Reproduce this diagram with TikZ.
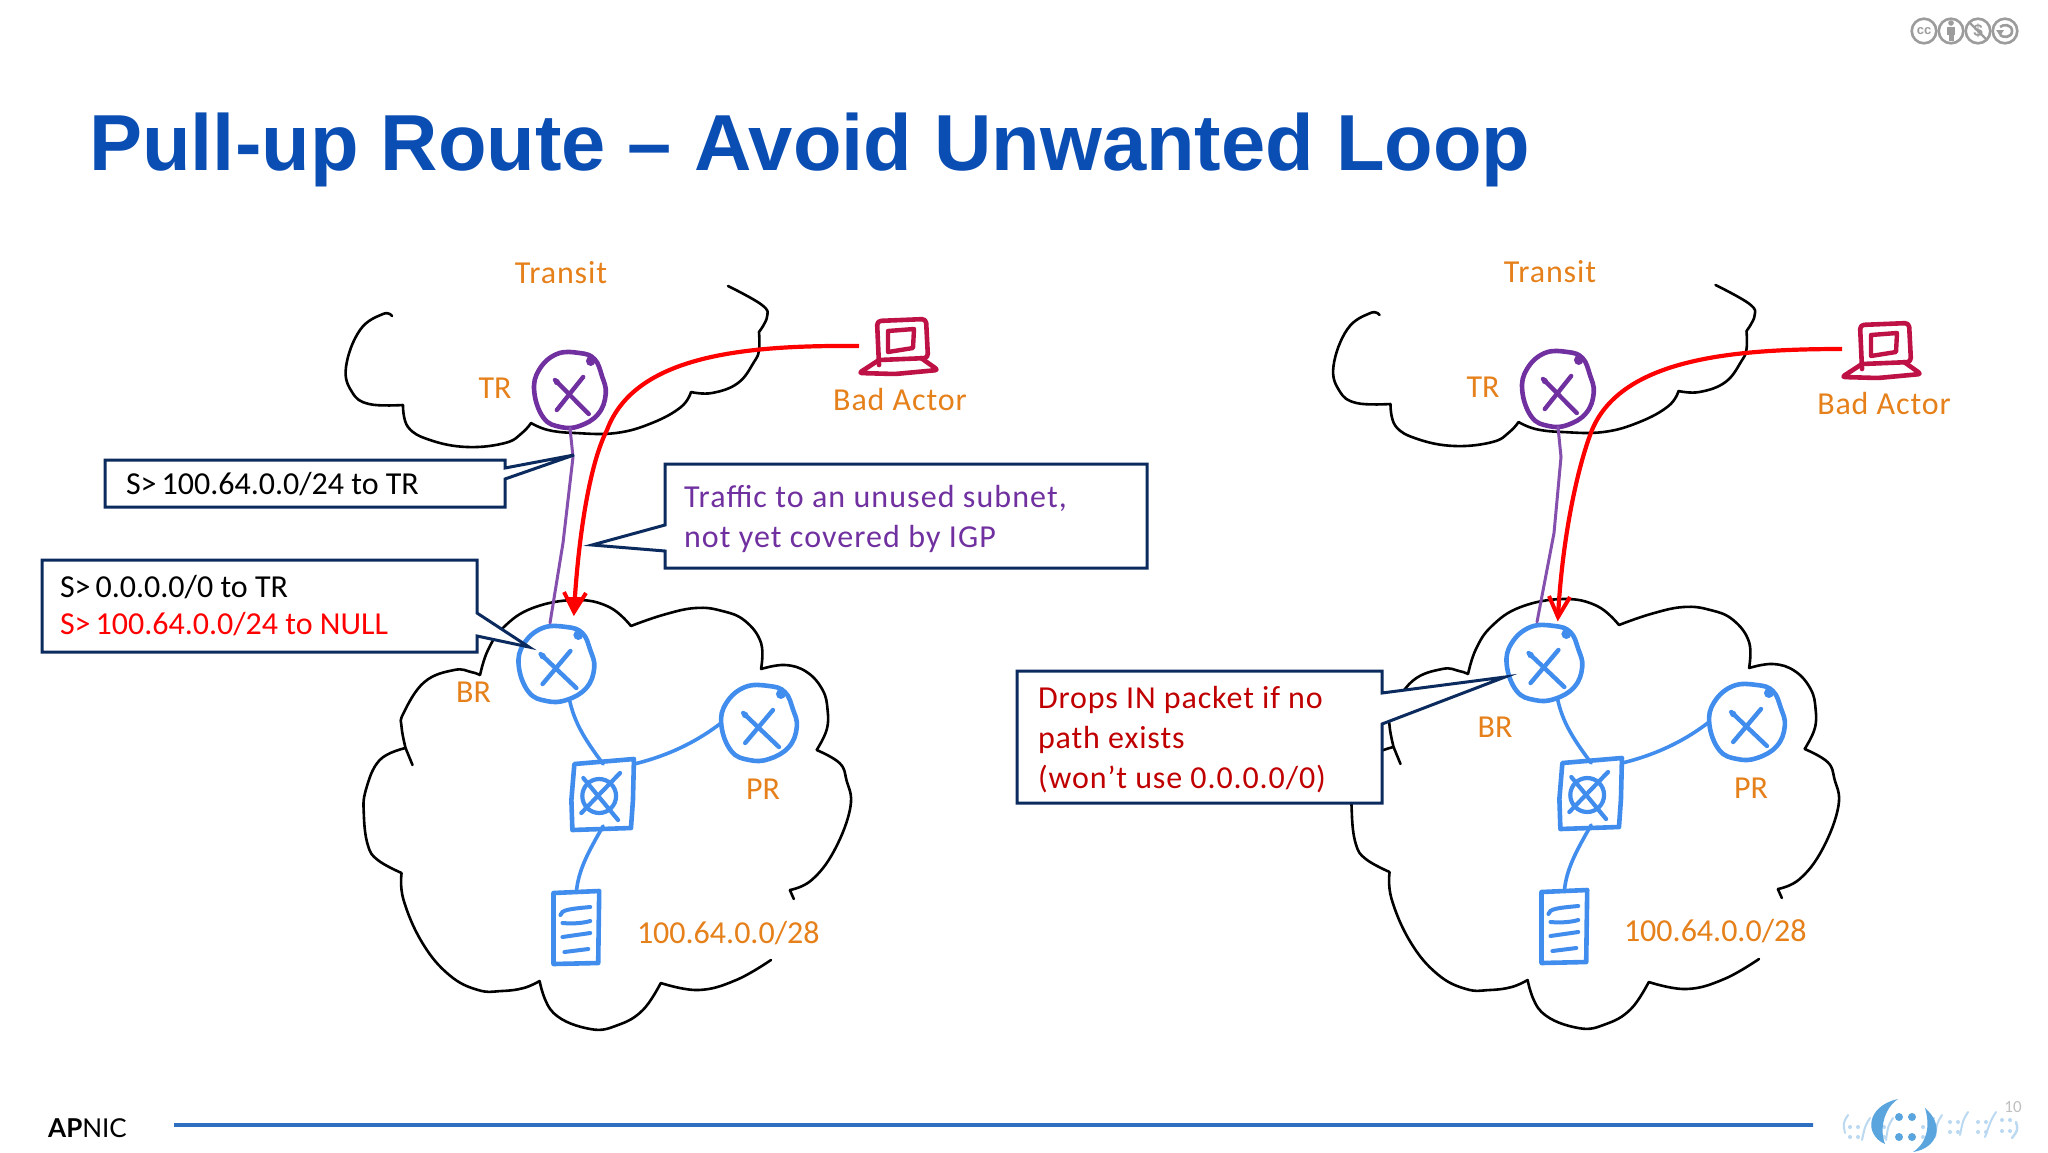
\documentclass[tikz,border=0pt]{standalone}
\usepackage{fontspec}
\setmainfont{Carlito}
\newfontfamily\spaced{Carlito}[LetterSpace=2.8]
\newfontfamily\spacedwide{Carlito}[LetterSpace=3.4]
\newfontfamily\titlefont{Liberation Sans}
\newfontfamily\logofont{Lato}
\usetikzlibrary{calc}
\definecolor{orangetxt}{HTML}{E5801A}
\definecolor{purp}{HTML}{7030A0}
\definecolor{netblue}{HTML}{418DEE}
\definecolor{navy}{HTML}{0B2A5E}
\definecolor{titleblue}{HTML}{0A4DB3}
\definecolor{crimson}{HTML}{BE1246}
\definecolor{darkred}{HTML}{C00000}
\definecolor{ccgray}{HTML}{9C9C9C}
\definecolor{logoblue}{HTML}{5AA5DE}
\definecolor{logolight}{HTML}{BBD9F1}
\definecolor{rulea}{HTML}{2F6FBF}
\definecolor{ruleb}{HTML}{1A4A9C}
\tikzset{
  lbl/.style={inner sep=0pt,outer sep=0pt,font=\fontsize{32}{38}\selectfont,anchor=base},
  slbl/.style={inner sep=0pt,outer sep=0pt,font=\spaced\fontsize{32}{38}\selectfont,anchor=base},
  wlbl/.style={inner sep=0pt,outer sep=0pt,font=\spacedwide\fontsize{32}{38}\selectfont,anchor=base west},
  olbl/.style={lbl,text=orangetxt},
  oslbl/.style={slbl,text=orangetxt},
  llbl/.style={lbl,anchor=base west},
  sllbl/.style={slbl,anchor=base west},
  ghost/.style={circle,inner sep=0pt,outer sep=0pt,minimum size=#1,draw=none},
  cloudline/.style={black,line width=2.6pt,line cap=round,line join=round},
  link/.style={netblue,line width=3.6pt,line cap=round},
  purplelink/.style={purp!85!white,line width=3pt,line cap=round,line join=round},
  hand/.style={line width=#1,line cap=round,line join=round},
  redline/.style={red,line width=4.2pt,line join=miter},
  callout/.style={draw=navy,fill=white,line width=3pt,line join=miter},
}
% hand-drawn router: name, x, y, colour
\newcommand{\handrouter}[4]{%
  \node[ghost=76pt] (#1) at (#2,#3) {};
  \begin{scope}[shift={(#2,#3)}]
    \draw[#4,hand=4.6pt] plot[smooth cycle,tension=.7] coordinates
      {(-38,2) (-33,-20) (-14,-36) (10,-37) (26,-31) (34,-14) (38,4) (30,24) (10,36) (-10,37) (-28,28)};
    \fill[#4] (22,-29) circle (5);
    \draw[#4,hand=4.4pt] (-16,-10) -- (20,24);
    \draw[#4,hand=4.4pt] (14,-13) -- (-14,20);
    \fill[#4] (-14,-8) circle (3.2);
  \end{scope}}
\newcommand{\topcloud}{%
  \draw[cloudline]
    plot[smooth,tension=.7] coordinates {(392,316) (383,314) (360,330) (346,367) (352,392) (369,404) (403,405)}
    plot[smooth,tension=.7] coordinates {(403,405) (408,427) (430,440) (467,447) (505,443) (522,433) (531,423)}
    plot[smooth,tension=.7] coordinates {(531,423) (548,430) (575,433) (616,433) (652,423) (681,407) (691,392)}
    plot[smooth,tension=.7] coordinates {(691,392) (712,393) (738,383) (754,362) (759,350) (759,332)}
    plot[smooth,tension=.7] coordinates {(759,332) (767,317) (762,305) (728,286)};}
\newcommand{\bottomcloud}{%
  \draw[cloudline]
    (413,765) -- (406,748)
    plot[smooth,tension=.7] coordinates {(406,748) (380,760) (366,790) (364,815) (368,845) (378,860) (402,873)}
    plot[smooth,tension=.7] coordinates {(402,873) (404,900) (423,943) (450,975) (479,990) (503,991) (525,988) (541,981)}
    plot[smooth,tension=.7] coordinates {(541,981) (555,1013) (592,1029) (620,1025) (645,1010) (663,983)}
    plot[smooth,tension=.7] coordinates {(663,983) (701,990) (739,980) (774,960)}
    (797,899) -- (793,890)
    plot[smooth,tension=.7] coordinates {(793,890) (815,880) (838,850) (854,807) (850,780) (843,763) (820,750)}
    plot[smooth,tension=.7] coordinates {(820,750) (830,730) (831,710) (826,690) (810,672) (788,665) (764,669)}
    plot[smooth,tension=.7] coordinates {(764,669) (764,643) (748,621) (725,611) (698,608) (665,615) (633,626)}
    plot[smooth,tension=.7] coordinates {(633,626) (611,607) (577,600) (534,608) (505,627) (489,650) (481,675)}
    plot[smooth,tension=.7] coordinates {(481,675) (472,672) (455,670) (425,682) (404,713) (402,727) (406,748)};}
% the inner network; #1 is the name prefix
\newcommand{\network}[1]{%
 \begin{scope}[shift={(2.4,0)},x=.993pt]
  \bottomcloud
  \handrouter{#1br}{558}{664}{netblue}
  \handrouter{#1pr}{762}{723}{netblue}
  \node[draw=none,minimum size=62pt,inner sep=0pt,outer sep=0pt] (#1sw) at (605,795) {};
  \node[draw=none,minimum width=46pt,minimum height=72pt,inner sep=0pt,outer sep=0pt] (#1doc) at (578,928) {};
  \draw[link] (#1br.-70) .. controls (576,723) and (587,740) .. (#1sw.north);
  \draw[link] (#1sw.north east) .. controls (665,757) and (695,745) .. (#1pr.west);
  \draw[link] (#1sw.south) .. controls (590,852) and (580,870) .. (#1doc.north);
  \draw[netblue,hand=4.6pt] (576,764) -- (636,759) -- (635,800) -- (633,828) -- (574,830) -- (573,800) -- cycle;
  \draw[netblue,hand=4.2pt] (601,796) ellipse (17 and 17);
  \draw[netblue,hand=4.2pt] (585,778) -- (620,820);
  \draw[netblue,hand=4.2pt] (622,773) -- (583,813);
  \draw[netblue,hand=4.6pt] (555,893) -- (601,891) -- (600,963) -- (555,964) -- cycle;
  \draw[netblue,hand=4pt] (562,915) .. controls (563,910) and (570,909) .. (592,907);
  \draw[netblue,hand=4pt] (564,923) .. controls (575,924) and (585,923) .. (592,921);
  \draw[netblue,hand=4pt] (564,937) -- (592,933);
  \draw[netblue,hand=4pt] (566,952) -- (590,949);
 \end{scope}
}
% laptop sketch
\newcommand{\laptop}{%
  \draw[crimson,hand=4.6pt,rounded corners=4pt] (879,365) -- (877,321) -- (926,319) -- (928,358) -- (879,360);
  \draw[crimson,hand=4.4pt] (888,331) -- (914,329) -- (913,348) -- (888,352) -- cycle;
  \draw[crimson,hand=4.6pt,rounded corners=3pt] (879,360) -- (859,373) -- (895,374) -- (938,370) -- (921,358);}
\begin{document}
\begin{tikzpicture}[x=1pt,y=-1pt]
\useasboundingbox (0,0) rectangle (2048,1152);
\fill[white] (0,0) rectangle (2048,1152);

% title
\node[inner sep=0pt,anchor=base west,text=titleblue,font=\titlefont\bfseries\fontsize{79.5}{96}\selectfont] (title) at (89,170) {Pull-up Route – Avoid Unwanted Loop};

% ---------- left network
\topcloud
\network{L}
\begin{scope}[shift={(570,390)},x=.94pt]
  \handrouter{Ltr}{0}{0}{purp}
\end{scope}
\node[oslbl] (Ltransit) at (561,283) {Transit};
\node[olbl] (Ltrl) at (495,398) {TR};
\node[oslbl] (Lactorl) at (900,410) {Bad Actor};
\node[olbl] (Lbrl) at (473.5,702) {BR};
\node[olbl] (Lprl) at (763,799) {PR};
\node[olbl,anchor=base west] (Lnet) at (637,943) {100.64.0.0/28};
\laptop
\coordinate (Lr0) at (859,346);
\coordinate (Lr1) at (607,430);
\coordinate (Lr2) at (574,612);
\coordinate (Lp1) at (550,623);
\draw[purplelink] (Ltr.south) -- (573,457) -- (563,543) -- (Lp1);
\draw[redline] (Lr0) .. controls (745,345) and (635,355) .. (Lr1) .. controls (589,465) and (578,540) .. (Lr2);
\draw[red,line width=4pt,line join=miter] (564,592) -- (Lr2) -- (586,593);
\fill[red] (568,597) -- (Lr2) -- (581,597) -- cycle;

% callouts left
\draw[callout] (105,460) -- (505,460) -- (505,468) -- (574,455) -- (505,479) -- (505,507) -- (105,507) -- cycle;
\node[llbl] (Lc1) at (126,494) {S>\hspace{5pt}100.64.0.0/24 to TR};
\draw[callout] (42,560) -- (477,560) -- (477,613) -- (529,647) -- (477,636) -- (477,652) -- (42,652) -- cycle;
\node[llbl] (Lc2a) at (60,597) {S>\hspace{5pt}0.0.0.0/0 to TR};
\node[llbl,text=red] (Lc2b) at (60,634) {S>\hspace{5pt}100.64.0.0/24 to NULL};
\draw[callout] (665,464) -- (1147,464) -- (1147,568) -- (665,568) -- (665,551) -- (592,545) -- (665,525) -- cycle;
\node[wlbl,text=purp] (Lc3a) at (684,507) {Traffic to an unused subnet,};
\node[wlbl,text=purp] (Lc3b) at (684,547) {not yet covered by IGP};

% ---------- right network
\begin{scope}[shift={(987.5,-1)}]
  \topcloud
\end{scope}
\begin{scope}[shift={(988,-1)}]
  \network{R}
\end{scope}
\begin{scope}[shift={(1558,389)},x=.94pt]
  \handrouter{Rtr}{0}{0}{purp}
\end{scope}
\node[oslbl] (Rtransit) at (1550,282) {Transit};
\node[olbl] (Rtrl) at (1483,397) {TR};
\node[oslbl] (Ractorl) at (1884,414) {Bad Actor};
\node[olbl] (Rbrl) at (1495,737) {BR};
\node[olbl] (Rprl) at (1751,798) {PR};
\node[olbl,anchor=base west] (Rnet) at (1624,941) {100.64.0.0/28};
\begin{scope}[shift={(983,4)}]
  \laptop
\end{scope}
\coordinate (Rr0) at (1842,349);
\coordinate (Rr1) at (1592,430);
\coordinate (Rr2) at (1558,617);
\coordinate (Rp1) at (1537,622);
\draw[purplelink] (Rtr.south) -- (1561,457) -- (1554,533) -- (Rp1);
\draw[redline] (Rr0) .. controls (1735,349) and (1622,358) .. (Rr1) .. controls (1577,468) and (1562,540) .. (Rr2);
\draw[red,line width=4pt,line join=miter] (1549,596) -- (Rr2) -- (1570,597);

\draw[callout] (1017,671) -- (1382,671) -- (1382,693) -- (1505,677) -- (1382,724) -- (1382,803) -- (1017,803) -- cycle;
\node[sllbl,text=darkred] (Rc1a) at (1038,708) {Drops IN packet if no};
\node[sllbl,text=darkred] (Rc1b) at (1038,748) {path exists};
\node[sllbl,text=darkred] (Rc1c) at (1038,788) {(won’t use 0.0.0.0/0)};

% ---------- footer
\node[inner sep=0pt,anchor=base west,font=\logofont\fontsize{26}{30}\selectfont] (apnic) at (48,1137) {\textbf{AP}NIC};
\shade[left color=rulea,middle color=ruleb,right color=rulea] (174,1123.5) rectangle (1813,1126.5);

% CC badges
\foreach \cx in {1924,1951,1978,2005} \draw[ccgray,line width=2.6pt] (\cx,31) circle (12.3);
\node[inner sep=0pt,text=ccgray,font=\titlefont\bfseries\fontsize{13}{13}\selectfont] (cc) at (1924,31) {cc};
\fill[ccgray] (1951,23) circle (2.8);
\fill[ccgray] (1947,27) rectangle (1955,35);
\fill[ccgray] (1948.5,35) rectangle (1953.5,41);
\node[inner sep=0pt,text=ccgray,font=\titlefont\bfseries\fontsize{17}{17}\selectfont] (dollar) at (1978,31) {\$};
\draw[ccgray,line width=2.4pt] (1969,22) -- (1987,40);
\draw[ccgray,line width=2.6pt] (2000,27) .. controls (2003,24) and (2012,24) .. (2012,31) .. controls (2012,38) and (2003,38) .. (2000,35);
\fill[ccgray] (1996,30) -- (2004,30) -- (2000,36) -- cycle;

% logo
\foreach \lx/\ly in {1850/1127,1858/1127,1850/1137,1858/1137,1884/1127,1884/1137,1923/1127,1923/1137,1950/1122,1958/1122,1950/1132,1958/1132,1978/1122,1986/1122,1978/1132,1986/1132,2002/1120,2010/1120,2002/1131,2010/1131}
  \fill[logolight] (\lx,\ly) circle (2);
\foreach \lx/\lya/\lxb/\lyb in {1848/1115/1845/1133,1870/1118/1862/1140,1893/1118/1886/1140,1934/1118/1926/1140,1942/1115/1935/1137,1968/1112/1960/1135,1996/1112/1985/1137}
  \draw[logolight,line width=2pt,line cap=round] (\lx,\lya) .. controls (\lx-5,\lya+8) .. (\lxb,\lyb);
\draw[logolight,line width=2.4pt,line cap=round] (2016,1122) .. controls (2018,1130) .. (2012,1138);
\fill[logoblue] (1898,1099) .. controls (1866,1106) and (1864,1135) .. (1885,1144) .. controls (1880,1132) and (1882,1110) .. cycle;
\fill[logoblue] (1925,1108) .. controls (1945,1125) and (1938,1148) .. (1913,1152) .. controls (1928,1142) and (1930,1125) .. cycle;
\foreach \lx/\ly in {1899/1117,1912/1117,1899/1137,1912/1137}
  \fill[logoblue] (\lx,\ly) circle (4);
\node[inner sep=0pt,text=gray!50,font=\fontsize{17}{17}\selectfont] (pageno) at (2013,1107) {10};
\end{tikzpicture}
\end{document}
